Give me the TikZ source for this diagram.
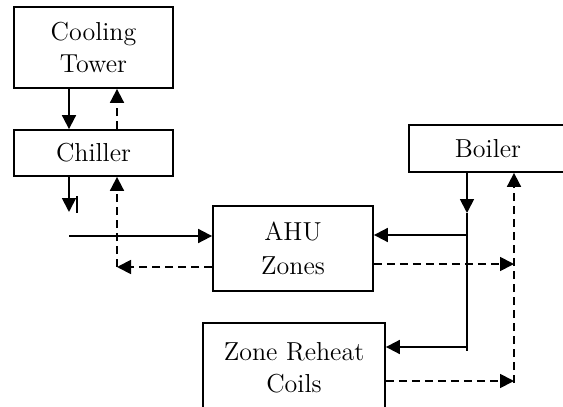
\documentclass[tikz,border=0pt]{standalone}
\usetikzlibrary{arrows.meta}
\begin{document}
\begin{tikzpicture}[
	x=0.5pt,y=-0.5pt,
	>={Triangle[length=7pt,width=7pt]},
	line width=0.9pt,
	unit/.style={draw,line width=0.9pt,align=center,font=\fontsize{13}{16}\selectfont,inner sep=0pt},
	ret/.style={dashed,dash pattern=on 4pt off 2.5pt}
	]
	\useasboundingbox (0,0) rectangle (563,407);
	\clip (0,0) rectangle (563,407);
	% plant and terminal units
	\node[unit,minimum width=79.5pt,minimum height=40.5pt] (tower) at (93.5,47.5) {Cooling\\Tower};
	\node[unit,minimum width=79.5pt,minimum height=23pt] (chiller) at (93.5,153) {Chiller};
	\node[unit,minimum width=79pt,minimum height=23.5pt] (boiler) at (488,148.5) {Boiler};
	\node[unit,minimum width=80pt,minimum height=42.5pt] (ahu) at (293,248.5) {AHU\\[1pt]Zones};
	\node[unit,minimum width=91pt,minimum height=45pt] (reheat) at (294,368) {Zone Reheat\\Coils};
	% chilled water loop
	\coordinate (cws) at (69,212);
	\coordinate (cwsahu) at (69,236);
	\coordinate (cwr) at (117,267);
	\draw[->] (tower.south -| cws) -- (chiller.north -| cws);
	\draw[ret,->] (chiller.north -| cwr) -- (tower.south -| cwr);
	\draw[->] (chiller.south -| cws) -- (cws);
	\draw (77,196) -- (77,213);
	\draw[->] (cwsahu) -- (ahu.west |- cwsahu);
	\draw[ret,->] (ahu.west |- cwr) -- (cwr);
	\draw[ret,->] (cwr) -- (chiller.south -| cwr);
	% hot water loop
	\coordinate (hwtop) at (467,213);
	\coordinate (hwbot) at (467,351);
	\coordinate (hwahu) at (467,235);
	\coordinate (hwrh) at (467,347);
	\coordinate (hwr) at (514,383);
	\draw[->] (boiler.south -| hwtop) -- (hwtop);
	\draw (hwtop) -- (hwbot);
	\draw[->] (hwahu) -- (ahu.east |- hwahu);
	\draw[->] (hwrh) -- (reheat.east |- hwrh);
	\draw[ret,->] (hwr) -- (boiler.south -| hwr);
	\draw[ret,->] (ahu.east |- 0,264) -- (514,264);
	\draw[ret,->] (reheat.east |- 0,381) -- (514,381);
\end{tikzpicture}
\end{document}
